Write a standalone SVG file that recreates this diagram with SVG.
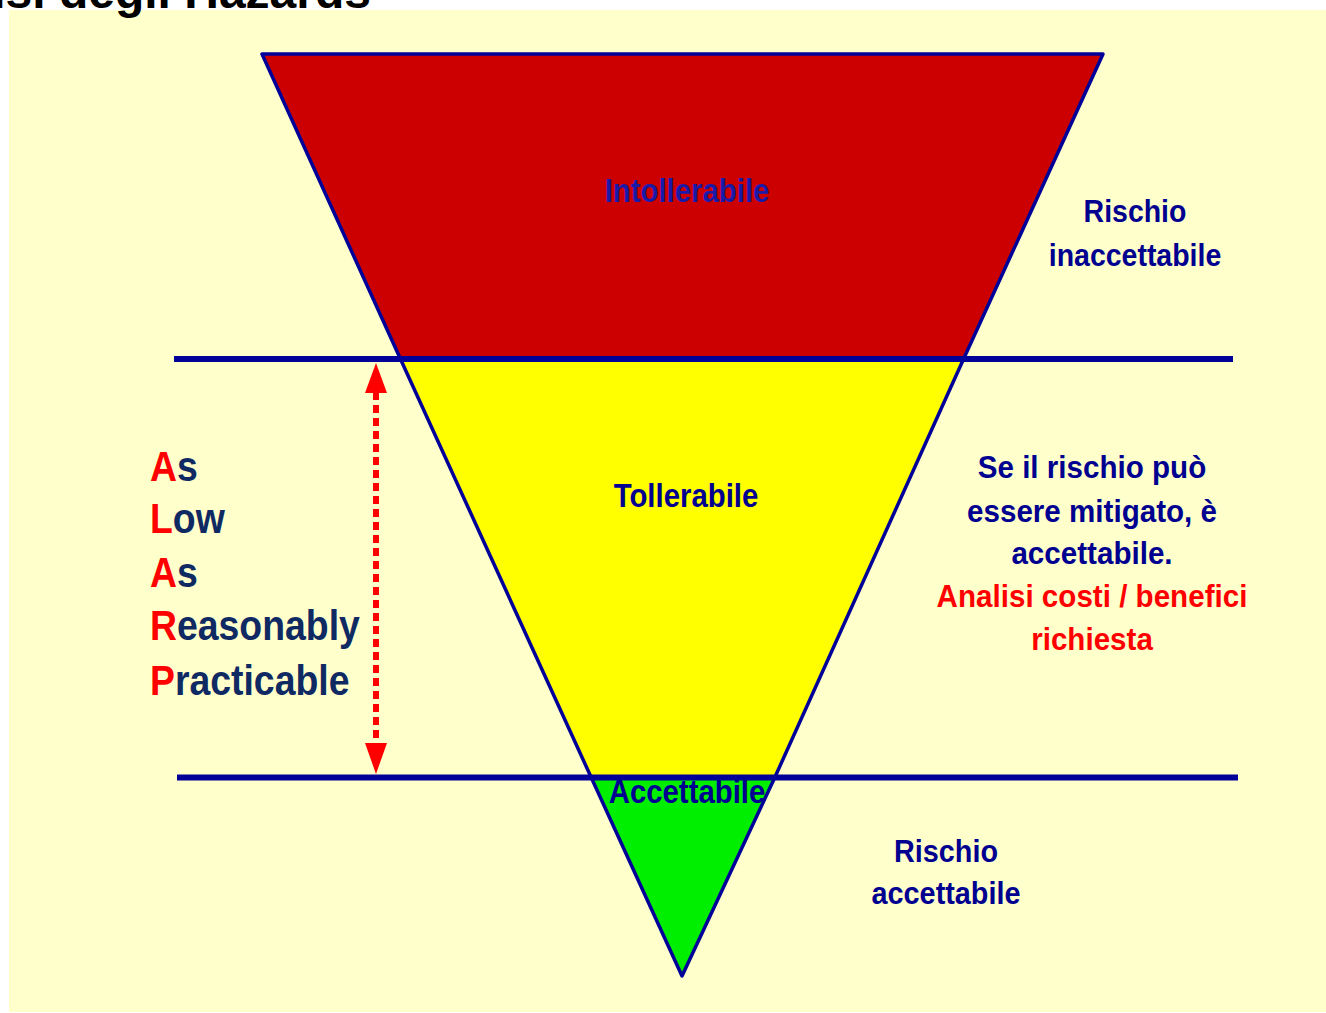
<svg xmlns="http://www.w3.org/2000/svg" width="1326" height="1013" viewBox="0 0 1326 1013">
<style>
.t{font-family:"Liberation Sans",Arial,sans-serif;font-weight:bold;}
.c{text-anchor:middle;}
.nv{fill:#000090;}
.dk{fill:#0F2A63;}
.rd{fill:#FF0000;}
.band{stroke:#000099;stroke-width:3.5;stroke-linejoin:round;}
.hl{stroke:#000099;stroke-width:6;}
.ah{fill:#FF0000;}
</style>
<rect x="0" y="0" width="1326" height="1013" fill="#FFFFFF"/>
<rect x="9" y="10" width="1317" height="1002" fill="#FFFFCC"/>
<text class="t" x="371" y="8" font-size="48" text-anchor="end" fill="#000000">Analisi degli Hazards</text>

<g id="zone-intollerabile">
<polygon class="band" points="262,54 1103,54 964,358 400,358" fill="#CC0000"/>
<text class="t c" font-size="33" fill="#1A1AA8" transform="translate(687,202) scale(0.89,1)">Intollerabile</text>
</g>
<g id="zone-tollerabile">
<polygon class="band" points="400,358 964,358 775,777 591,777" fill="#FFFF00"/>
<text class="t c nv" font-size="33" transform="translate(686,507) scale(0.89,1)">Tollerabile</text>
</g>
<g id="zone-accettabile">
<polygon class="band" points="591,777 775,777 682,976" fill="#00EE00"/>
</g>

<g id="connectors">
<line class="hl" x1="174" y1="359" x2="1233" y2="359"/>
<line class="hl" x1="177" y1="777.5" x2="1238" y2="777.5"/>
<line x1="376" y1="392" x2="376" y2="745" stroke="#FF0000" stroke-width="6" stroke-dasharray="8 5"/>
<path class="ah" d="M376,363 L387,393 L365,393 Z"/>
<path class="ah" d="M376,774 L387,743 L365,743 Z"/>
</g>

<g id="label-accettabile">
<text class="t c nv" font-size="33" transform="translate(687,803) scale(0.89,1)">Accettabile</text>
</g>

<g id="label-rischio-inaccettabile">
<text class="t c nv" font-size="32" transform="translate(1135,222) scale(0.89,1)">Rischio</text>
<text class="t c nv" font-size="32" transform="translate(1135,266) scale(0.89,1)">inaccettabile</text>
</g>

<g id="label-tollerabile-note">
<text class="t c nv" font-size="32" transform="translate(1092,478) scale(0.925,1)">Se il rischio può</text>
<text class="t c nv" font-size="32" transform="translate(1092,522) scale(0.925,1)">essere mitigato, è</text>
<text class="t c nv" font-size="32" transform="translate(1092,564) scale(0.925,1)">accettabile.</text>
<text class="t c rd" font-size="32" transform="translate(1092,607) scale(0.925,1)">Analisi costi / benefici</text>
<text class="t c rd" font-size="32" transform="translate(1092,650) scale(0.925,1)">richiesta</text>
</g>

<g id="label-rischio-accettabile">
<text class="t c nv" font-size="32" transform="translate(946,862) scale(0.9,1)">Rischio</text>
<text class="t c nv" font-size="32" transform="translate(946,904) scale(0.9,1)">accettabile</text>
</g>

<g id="alarp">
<text class="t dk" font-size="42" transform="translate(150,481) scale(0.89,1)"><tspan class="rd">A</tspan>s</text>
<text class="t dk" font-size="42" transform="translate(150,533) scale(0.89,1)"><tspan class="rd">L</tspan>ow</text>
<text class="t dk" font-size="42" transform="translate(150,587) scale(0.89,1)"><tspan class="rd">A</tspan>s</text>
<text class="t dk" font-size="42" transform="translate(150,640) scale(0.89,1)"><tspan class="rd">R</tspan>easonably</text>
<text class="t dk" font-size="42" transform="translate(150,695) scale(0.89,1)"><tspan class="rd">P</tspan>racticable</text>
</g>
</svg>
